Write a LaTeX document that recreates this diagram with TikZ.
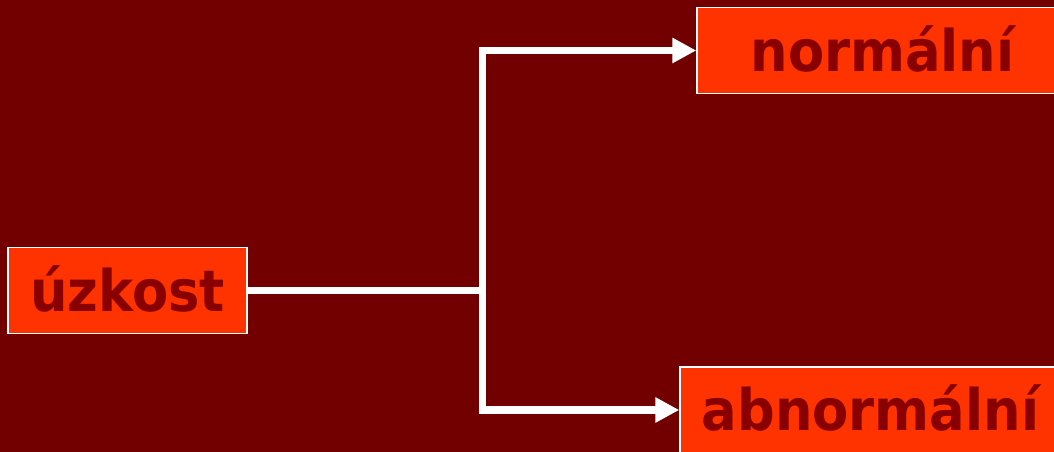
\documentclass[tikz,border=0pt]{standalone}
\usepackage{fontspec}
\setmainfont{DejaVu Sans}
\newfontfamily\boxfont[FakeStretch=0.92]{DejaVu Sans}
\usetikzlibrary{arrows.meta}
\definecolor{bgred}{HTML}{720000}
\definecolor{boxred}{HTML}{FF3300}
\definecolor{txtred}{HTML}{880000}
\tikzset{
  box/.style={draw=white, line width=1.1pt, fill=boxred, text=txtred,
    font=\boxfont\bfseries\fontsize{43}{50}\selectfont, inner sep=0pt,
    minimum height=64.5pt, text height=31.5pt, text depth=0pt, anchor=center},
  conn/.style={draw=white, line width=5.6pt},
  arr/.style={conn, -{Triangle[length=18pt,width=18pt]}}
}
\begin{document}
\begin{tikzpicture}[x=0.75pt,y=-0.75pt]
\fill[bgred] (0,0) rectangle (1054,452);
\useasboundingbox (0,0) rectangle (1054,452);
\clip (0,0) rectangle (1054,452);
\node[box, minimum width=179.25pt] (uz) at (127.5,290.5) {úzkost};
\node[box, minimum width=278.25pt] (norm) at (882.5,50.5) {normální};
\node[box, minimum width=285.75pt] (abn) at (870.5,410) {abnormální};
\draw[conn] (uz.east) -- ++(235,0) coordinate (j);
\draw[arr] (j) |- (norm.west);
\draw[arr] (j) |- (abn.west);
\end{tikzpicture}
\end{document}
